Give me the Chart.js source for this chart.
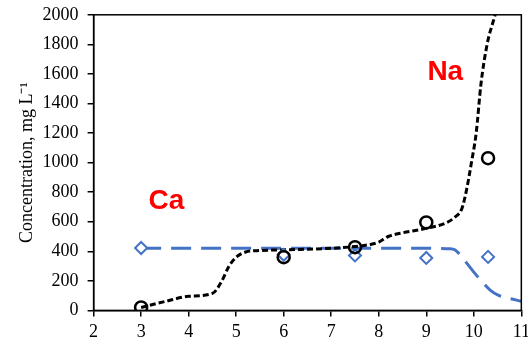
<!DOCTYPE html>
<html>
<head>
<meta charset="utf-8">
<script src="https://cdn.jsdelivr.net/npm/chart.js@4"></script>
<style>
  html, body { margin: 0; padding: 0; background: #fff; overflow: hidden; }
  #wrap { width: 535px; height: 348px; margin-top: -5px; }
</style>
</head>
<body>
<div id="wrap"><canvas id="concChart"></canvas></div>
<script>
// measured points (pH vs concentration)
const measuredPH = [3, 6, 7.5, 9, 10.3];
const naMeasured = [20, 360, 428, 595, 1030];
const caMeasured = [422, 376, 372, 355, 362];

// model curves
const naModelPH = [3, 3.5, 4, 4.5, 4.7, 4.85, 5, 5.2, 5.5, 6, 7, 7.5, 7.8, 8, 8.2, 8.5, 9, 9.4, 9.6, 9.75, 9.85, 9.95, 10.05, 10.15, 10.28, 10.45];
const naModel   = [20, 60, 95, 115, 200, 300, 360, 395, 405, 410, 420, 432, 445, 462, 500, 525, 555, 590, 630, 690, 820, 1000, 1200, 1530, 1800, 2000];
const caModelPH = [3, 5, 7, 9, 9.5, 9.6, 9.72, 9.85, 10, 10.2, 10.35, 10.5, 10.7, 11];
const caModel   = [420, 420, 420, 420, 417, 410, 374, 320, 259, 185, 135, 105, 85, 62];

const xTicks = [2, 3, 4, 5, 6, 7, 8, 9, 10, 11];

const toXY = (xs, ys) => xs.map((x, i) => ({ x: x, y: ys[i] }));

const serif = '"Liberation Serif", "Times New Roman", serif';

// Ca / Na labels + box around plot area
const extras = {
    id: 'extras',
    afterDraw(chart) {
        const { ctx, chartArea, scales } = chart;
        ctx.save();
        ctx.strokeStyle = '#000';
        ctx.lineWidth = 1.5;
        ctx.strokeRect(chartArea.left, chartArea.top, chartArea.right - chartArea.left, chartArea.bottom - chartArea.top);
        ctx.fillStyle = '#ff0000';
        ctx.font = 'bold 28px "Liberation Sans", Arial, sans-serif';
        ctx.textAlign = 'center';
        ctx.textBaseline = 'middle';
        ctx.fillText('Ca', scales.x.getPixelForValue(3.53), scales.y.getPixelForValue(735));
        ctx.fillText('Na', scales.x.getPixelForValue(9.4), scales.y.getPixelForValue(1608));
        ctx.restore();
    }
};

const ctx = document.getElementById('concChart').getContext('2d');
const chart = new Chart(ctx, {
    type: 'scatter',
    data: {
        datasets: [
            {
                label: 'Na measured',
                data: toXY(measuredPH, naMeasured),
                pointStyle: 'circle',
                pointRadius: 6,
                pointBorderWidth: 2.5,
                pointBorderColor: '#000',
                pointBackgroundColor: 'rgba(255,255,255,0)',
                order: 1
            },
            {
                label: 'Ca measured',
                data: toXY(measuredPH, caMeasured),
                pointStyle: 'rectRot',
                pointRadius: 6,
                pointBorderWidth: 2,
                pointBorderColor: '#4472c4',
                pointBackgroundColor: '#fff',
                order: 2
            },
            {
                label: 'Na model',
                data: toXY(naModelPH, naModel),
                showLine: true,
                pointRadius: 0,
                borderColor: '#000',
                borderWidth: 3,
                borderDash: [6, 3],
                cubicInterpolationMode: 'monotone',
                order: 3
            },
            {
                label: 'Ca model',
                data: toXY(caModelPH, caModel),
                showLine: true,
                pointRadius: 0,
                borderColor: '#4472c4',
                borderWidth: 3,
                borderDash: [20, 10],
                cubicInterpolationMode: 'monotone',
                order: 4
            }
        ]
    },
    options: {
        responsive: true,
        maintainAspectRatio: false,
        animation: false,
        layout: { padding: { top: 3, right: -7, left: 10, bottom: -5 } },
        plugins: { legend: { display: false }, tooltip: { enabled: false } },
        scales: {
            x: {
                type: 'linear',
                min: 2,
                max: 11,
                afterBuildTicks: (axis) => { axis.ticks = xTicks.map(v => ({ value: v })); },
                grid: { drawOnChartArea: false, tickLength: 6, color: '#000', lineWidth: 1.5 },
                border: { color: '#000', width: 1.5 },
                ticks: { color: '#000', font: { family: serif, size: 18 }, padding: 5, callback: (v) => String(v) }
            },
            y: {
                min: 0,
                max: 2000,
                grid: { drawOnChartArea: false, tickLength: 6, color: '#000', lineWidth: 1.5 },
                border: { color: '#000', width: 1.5 },
                ticks: { stepSize: 200, color: '#000', font: { family: serif, size: 18 }, padding: 9, callback: (v) => String(v) },
                title: {
                    display: true,
                    text: 'Concentration, mg L\u207B\u00B9',
                    color: '#000',
                    font: { family: serif, size: 18 },
                    padding: { top: 6, bottom: -4 }
                }
            }
        }
    },
    plugins: [extras]
});
</script>
</body>
</html>
